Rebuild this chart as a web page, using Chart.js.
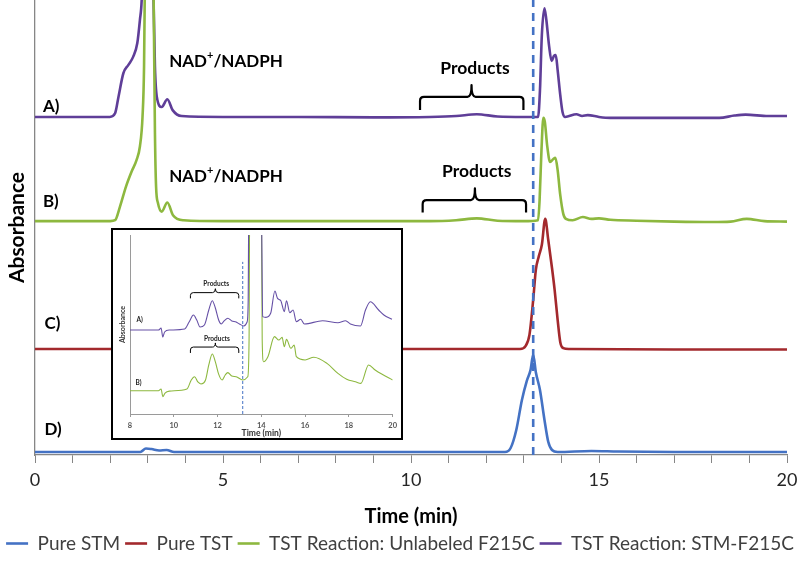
<!DOCTYPE html>
<html><head><meta charset="utf-8">
<script src="https://cdn.jsdelivr.net/npm/chart.js@4/dist/chart.umd.min.js"></script>
<style>
html,body{margin:0;padding:0;background:#fff;}
#wrap{position:relative;width:800px;height:563px;overflow:hidden;}
#main{position:absolute;left:0;top:0;}
#insetBox{position:absolute;left:111px;top:228px;width:292px;height:212px;box-sizing:border-box;border:2px solid #000;background:#fff;}
#inset{display:block;}
</style></head><body>
<div id="wrap">
<canvas id="main" width="800" height="563"></canvas>
<div id="insetBox"><canvas id="inset" width="288" height="208"></canvas></div>
</div>
<script>
// ---------- DATA (time in min, absorbance in arbitrary stacked units) ----------
const seriesNames = ['Pure STM', 'Pure TST', 'TST Reaction: Unlabeled F215C', 'TST Reaction: STM-F215C'];
const seriesColors = ['#4472C4', '#A3292D', '#8DB83F', '#5F3E98'];
const xTickStep = 1;
const xLabelEvery = 5;

const pureSTM = [[0,0.66],[1,0.66],[2,0.66],[2.8,0.66],[2.95,1.43],[3.1,1.3],[3.3,1.0],[3.5,1.1],[3.7,0.66],[5,0.66],[8,0.66],[10,0.66],[12.5,0.66],[12.65,1.54],[12.8,5.5],[12.95,12.1],[13.08,16.3],[13.18,18.7],[13.25,22.0],[13.32,18.2],[13.43,14.3],[13.55,7.7],[13.65,2.9],[13.75,1.1],[13.9,0.66],[14.8,0.88],[15.5,0.77],[17,0.66],[19,0.66],[20,0.66]];

const pureTST = [[0,23.3],[5,23.3],[10,23.3],[12.9,23.3],[13.05,24.0],[13.15,26.4],[13.25,34.1],[13.32,40.7],[13.4,43.7],[13.48,46.2],[13.57,51.9],[13.65,47.3],[13.75,41.1],[13.82,36.3],[13.9,29.7],[13.97,24.8],[14.05,23.5],[14.2,23.3],[17,23.2],[20,23.2]];

const unlabeledF215C = [[0,51.4],[1,51.4],[2.0,51.4],[2.13,51.6],[2.26,54.6],[2.42,59.0],[2.57,62.3],[2.70,64.8],[2.79,67.8],[2.86,74.4],[2.90,85.3],[2.93,110],[3.0,140],[3.1,130],[3.15,105],[3.19,70.8],[3.22,59.0],[3.27,55.4],[3.37,53.5],[3.52,55.5],[3.67,52.7],[3.95,51.6],[5,51.4],[7,51.4],[9,51.4],[10.5,51.4],[11.2,51.6],[11.75,52.0],[12.3,51.5],[13.0,51.4],[13.38,51.6],[13.42,56.0],[13.47,67.0],[13.52,74.1],[13.56,73.2],[13.62,68.1],[13.7,64.4],[13.78,65.0],[13.84,65.3],[13.9,62.6],[13.97,57.1],[14.05,53.0],[14.12,51.9],[14.3,51.6],[14.57,52.3],[14.8,51.9],[15.0,52.0],[15.3,51.7],[16,51.5],[17,51.3],[18,51.2],[18.5,51.3],[18.93,51.9],[19.4,51.4],[20,51.3]];

const stmF215C = [[0,74.3],[1,74.3],[1.99,74.3],[2.13,75.1],[2.22,78.7],[2.35,83.9],[2.48,85.7],[2.61,87.5],[2.72,90.5],[2.79,95.6],[2.84,100.5],[2.9,120],[3.0,140],[3.1,130],[3.15,101],[3.19,85.3],[3.24,78.7],[3.37,76.5],[3.52,78.2],[3.66,75.8],[3.9,74.5],[5,74.3],[7,74.3],[9,74.2],[10.5,74.3],[11.2,74.5],[11.75,74.9],[12.3,74.4],[13.0,74.3],[13.38,74.3],[13.43,80.2],[13.48,92.3],[13.55,98.2],[13.6,95.6],[13.67,90.1],[13.74,86.6],[13.8,87.7],[13.85,87.9],[13.9,84.6],[13.97,79.1],[14.03,75.4],[14.1,74.3],[14.4,74.9],[14.55,74.5],[14.7,74.7],[15.0,74.3],[15.3,74.1],[16,74.1],[17,74.1],[18.2,74.1],[18.6,74.6],[18.9,74.8],[19.5,74.5],[20,74.5]];

const stmRetentionTime = 13.25;

// inset (zoomed 8–20 min)
const insetSTMF215C = [[8,46.9],[9.3,46.9],[9.42,48.0],[9.5,43.0],[9.58,45.8],[9.8,46.9],[10.5,47.5],[10.7,51.4],[10.9,55.3],[11.05,52.5],[11.2,48.6],[11.4,49.7],[11.6,58.1],[11.76,63.3],[11.9,59.2],[12.05,52.5],[12.17,50.3],[12.3,52.0],[12.47,53.5],[12.65,52.0],[12.85,51.4],[13.0,50.3],[13.2,49.2],[13.35,51.4],[13.4,63.7],[13.43,120],[14.0,120],[14.06,54.4],[14.21,54.0],[14.43,56.4],[14.62,68.7],[14.74,64.6],[14.89,63.3],[15.05,57.2],[15.15,63.3],[15.3,56.6],[15.45,58.1],[15.6,51.6],[15.8,52.9],[15.97,50.3],[16.8,52.1],[17.5,51.0],[17.85,52.1],[18.07,50.3],[18.53,49.2],[18.76,58.1],[18.98,62.7],[19.36,58.1],[19.6,55.3],[19.97,52.9]];

const insetUnlabeled = [[8,13.0],[9.3,13.0],[9.42,14.0],[9.5,9.7],[9.6,11.7],[9.8,12.8],[10.6,14.0],[10.8,19.0],[10.95,20.8],[11.1,17.9],[11.24,16.8],[11.45,19.0],[11.6,27.4],[11.76,33.5],[11.9,29.1],[12.05,22.3],[12.21,19.0],[12.35,21.8],[12.47,23.1],[12.65,21.2],[12.85,20.8],[13.15,19.0],[13.38,20.8],[13.44,41.3],[13.47,120],[14.0,120],[14.04,41.3],[14.1,29.2],[14.3,32.0],[14.6,43.2],[14.8,41.3],[14.95,42.8],[15.05,37.6],[15.15,41.7],[15.35,36.7],[15.5,38.5],[15.6,32.0],[16.0,30.2],[16.4,31.7],[17.0,28.3],[17.5,22.7],[17.9,19.4],[18.3,18.0],[18.55,17.1],[18.9,27.4],[19.2,24.6],[19.5,22.3],[20.0,19.0]];
const insetDashTime = 13.15;

// ---------- annotation placement (data coordinates) ----------
const mainNotes = {
  traceLabels: [['A)', 0.21, 76.5], ['B)', 0.21, 55.7], ['C)', 0.25, 29.0], ['D)', 0.25, 5.5]],
  nad: [[5.08, 86.4], [5.08, 61.2]],
  products: [[11.7, 85.0], [11.75, 62.3]],
  brackets: [[10.24, 12.99, 11.61, 75.8, 78.7, 81.3], [10.31, 13.06, 11.7, 53.3, 56.0, 58.6]]
};
const insetNotes = {
  traceLabels: [['A)', 8.3, 52.5], ['B)', 8.25, 17.5]],
  products: [[11.94, 72.5], [11.97, 41.7]],
  brackets: [[10.76, 12.97, 11.9, 64.6, 67.8, 70.0], [10.76, 12.97, 11.9, 34.1, 37.4, 39.7]]
};

const FONT = 'Lato, "Open Sans", sans-serif';
const toXY = arr => arr.map(p => ({x: p[0], y: p[1]}));

function drawBracket(ctx, xs, ys, b, lw) {
  const x1 = xs.getPixelForValue(b[0]), x2 = xs.getPixelForValue(b[1]), xm = xs.getPixelForValue(b[2]);
  const yE = ys.getPixelForValue(b[3]), yB = ys.getPixelForValue(b[4]), yT = ys.getPixelForValue(b[5]);
  const r = Math.min(4, (yE - yB) * 0.5);
  ctx.save();
  ctx.strokeStyle = '#000'; ctx.lineWidth = lw; ctx.lineJoin = 'round';
  ctx.beginPath();
  ctx.moveTo(x1, yE);
  ctx.lineTo(x1, yB + r);
  ctx.quadraticCurveTo(x1, yB, x1 + r, yB);
  ctx.lineTo(xm - r, yB);
  ctx.quadraticCurveTo(xm, yB, xm, yT);
  ctx.quadraticCurveTo(xm, yB, xm + r, yB);
  ctx.lineTo(x2 - r, yB);
  ctx.quadraticCurveTo(x2, yB, x2, yB + r);
  ctx.lineTo(x2, yE);
  ctx.stroke();
  ctx.restore();
}

const mainNotesPlugin = {
  id: 'mainNotes',
  afterDatasetsDraw(chart) {
    const ctx = chart.ctx, xs = chart.scales.x, ys = chart.scales.y;
    ctx.save();
    ctx.fillStyle = '#000';
    ctx.textBaseline = 'middle';
    ctx.font = 'bold 17px ' + FONT;
    ctx.textAlign = 'left';
    mainNotes.traceLabels.forEach(l => ctx.fillText(l[0], xs.getPixelForValue(l[1]), ys.getPixelForValue(l[2])));
    mainNotes.nad.forEach(n => {
      const cx = xs.getPixelForValue(n[0]), cy = ys.getPixelForValue(n[1]);
      ctx.font = 'bold 17px ' + FONT;
      const w1 = ctx.measureText('NAD').width, w3 = ctx.measureText('/NADPH').width;
      ctx.font = 'bold 11px ' + FONT;
      const w2 = ctx.measureText('+').width;
      let x = cx - (w1 + w2 + w3) / 2;
      ctx.font = 'bold 17px ' + FONT; ctx.fillText('NAD', x, cy); x += w1;
      ctx.font = 'bold 11px ' + FONT; ctx.fillText('+', x, cy - 6); x += w2;
      ctx.font = 'bold 17px ' + FONT; ctx.fillText('/NADPH', x, cy);
    });
    ctx.textAlign = 'center';
    ctx.font = 'bold 17.5px ' + FONT;
    mainNotes.products.forEach(p => ctx.fillText('Products', xs.getPixelForValue(p[0]), ys.getPixelForValue(p[1])));
    ctx.restore();
    mainNotes.brackets.forEach(b => drawBracket(ctx, xs, ys, b, 2.2));
  }
};

const insetNotesPlugin = {
  id: 'insetNotes',
  afterDatasetsDraw(chart) {
    const ctx = chart.ctx, xs = chart.scales.x, ys = chart.scales.y;
    ctx.save();
    ctx.fillStyle = '#222';
    ctx.textBaseline = 'middle';
    ctx.font = 'bold 6.5px ' + FONT;
    ctx.textAlign = 'left';
    insetNotes.traceLabels.forEach(l => ctx.fillText(l[0], xs.getPixelForValue(l[1]), ys.getPixelForValue(l[2])));
    ctx.textAlign = 'center';
    insetNotes.products.forEach(p => ctx.fillText('Products', xs.getPixelForValue(p[0]), ys.getPixelForValue(p[1])));
    ctx.restore();
    insetNotes.brackets.forEach(b => drawBracket(ctx, xs, ys, b, 1));
  }
};

// ---------- main chart ----------
const traces = [pureSTM, pureTST, unlabeledF215C, stmF215C];
const mainDatasets = traces.map((t, i) => ({
  label: seriesNames[i],
  data: toXY(t),
  borderColor: seriesColors[i],
  backgroundColor: seriesColors[i],
  borderWidth: 2.6,
  pointRadius: 0,
  pointStyle: 'line',
  cubicInterpolationMode: 'monotone',
  order: i + 1
}));
mainDatasets.push({
  label: 'STM retention time',
  data: [{x: stmRetentionTime, y: 0}, {x: stmRetentionTime, y: 100}],
  borderColor: '#4472C4',
  borderWidth: 2.6,
  borderDash: [8, 6],
  pointRadius: 0,
  order: 0
});

new Chart(document.getElementById('main'), {
  type: 'line',
  data: {datasets: mainDatasets},
  options: {
    responsive: false,
    animation: false,
    events: [],
    layout: {padding: 0},
    plugins: {
      legend: {
        position: 'bottom',
        labels: {
          usePointStyle: true,
          pointStyleWidth: 22,
          boxHeight: 10,
          padding: 5,
          color: '#404040',
          font: {family: FONT, size: 19},
          filter: item => item.text !== 'STM retention time'
        }
      },
      tooltip: {enabled: false}
    },
    scales: {
      x: {
        type: 'linear', min: 0, max: 20,
        afterFit: s => { s.height = 74; s.paddingRight = 13; s.paddingLeft = 0; },
        border: {color: '#868686', width: 1.3},
        grid: {drawOnChartArea: false, drawTicks: true, tickLength: 8, color: '#868686'},
        ticks: {
          stepSize: xTickStep, autoSkip: false, maxRotation: 0, padding: 6,
          color: '#262626', font: {family: FONT, size: 18},
          callback: v => (v % xLabelEvery === 0 ? String(v) : '')
        },
        title: {display: true, text: 'Time (min)', color: '#000', font: {family: FONT, size: 20, weight: 'bold'}, padding: {top: 0, bottom: 0}}
      },
      y: {
        type: 'linear', min: 0, max: 100,
        afterFit: s => { s.width = 35; s.paddingTop = 0; s.paddingBottom = 0; },
        border: {color: '#868686', width: 1.3},
        grid: {drawOnChartArea: false, drawTicks: false},
        ticks: {display: false},
        title: {display: true, text: 'Absorbance', color: '#000', font: {family: FONT, size: 21, weight: 'bold'}, padding: {top: 5, bottom: 0}}
      }
    }
  },
  plugins: [mainNotesPlugin]
});

// ---------- inset chart ----------
new Chart(document.getElementById('inset'), {
  type: 'line',
  data: {datasets: [
    {label: 'A', data: toXY(insetSTMF215C), borderColor: '#6650A6', borderWidth: 1.1, pointRadius: 0, cubicInterpolationMode: 'monotone'},
    {label: 'B', data: toXY(insetUnlabeled), borderColor: '#8DB83F', borderWidth: 1.1, pointRadius: 0, cubicInterpolationMode: 'monotone'},
    {label: 'dash', data: [{x: insetDashTime, y: 0}, {x: insetDashTime, y: 85}], borderColor: '#4472C4', borderWidth: 1, borderDash: [3, 2], pointRadius: 0}
  ]},
  options: {
    responsive: false,
    animation: false,
    events: [],
    layout: {padding: {left: 0, right: 7, top: 5, bottom: 0}},
    plugins: {legend: {display: false}, tooltip: {enabled: false}},
    scales: {
      x: {
        type: 'linear', min: 8, max: 20,
        afterFit: s => { s.height = 24; },
        border: {color: '#9a9a9a', width: 1},
        grid: {drawOnChartArea: false, drawTicks: true, tickLength: 3, color: '#9a9a9a'},
        ticks: {stepSize: 2, autoSkip: false, maxRotation: 0, padding: 4, color: '#555', font: {family: FONT, size: 7.5, weight: 'bold'}},
        title: {display: true, text: 'Time (min)', color: '#333', font: {family: FONT, size: 8.5, weight: 'bold'}, padding: {top: 0, bottom: 0}}
      },
      y: {
        type: 'linear', min: 0, max: 100,
        afterFit: s => { s.width = 17; },
        border: {color: '#9a9a9a', width: 1},
        grid: {drawOnChartArea: false, drawTicks: false},
        ticks: {display: false},
        title: {display: true, text: 'Absorbance', color: '#333', font: {family: FONT, size: 7, weight: 'bold'}, padding: {top: 6, bottom: 0}}
      }
    }
  },
  plugins: [insetNotesPlugin]
});
</script>
</body></html>
